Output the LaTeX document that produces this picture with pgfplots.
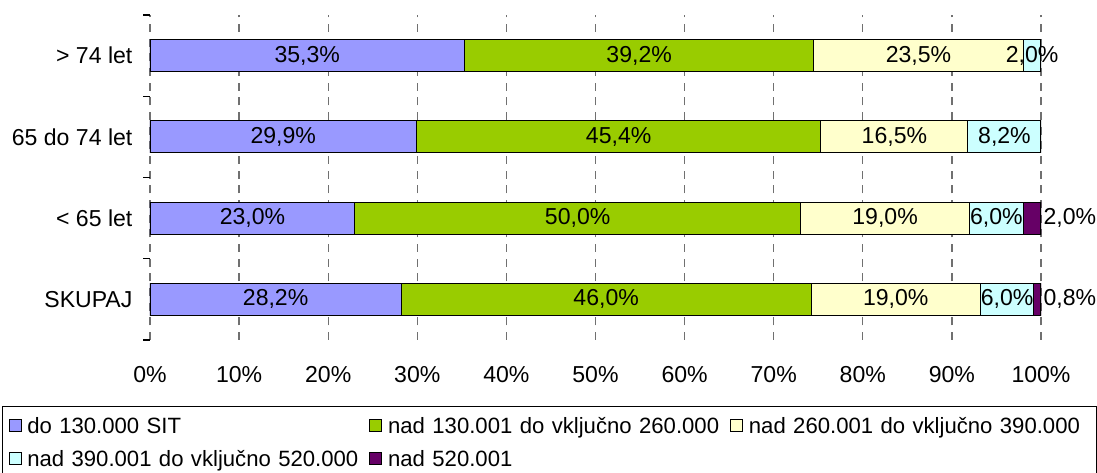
\documentclass[border=0pt]{standalone}
\usepackage{fontspec}
\setmainfont{Liberation Sans}
\usepackage{pgfplots}
\pgfplotsset{compat=1.18}
\definecolor{c1}{HTML}{9999FF}
\definecolor{c2}{HTML}{99CC00}
\definecolor{c3}{HTML}{FFFFCC}
\definecolor{c4}{HTML}{CCFFFF}
\definecolor{c5}{HTML}{660066}
\definecolor{gridgray}{HTML}{707070}
\pgfplotsset{
  myleg/.style={legend image code/.code={\draw[##1,line width=0.6pt] (0pt,-4.5pt) rectangle (9pt,4.5pt);}},
  centerlabel/.style={nodes near coords={\pgfmathprintnumber{\pgfplotspointmeta}\%},
    point meta=explicit,
    every node near coord/.append style={anchor=center, text=black, inner sep=0pt}},
  barst/.style={draw=black, line width=0.8pt, myleg},
}
\begin{document}
\fontsize{17.3}{20.8}\selectfont
\begin{tikzpicture}[font=\fontsize{17.3}{20.8}\selectfont]
\begin{axis}[
  at={(112.5pt,-255pt)}, anchor=south west,
  scale only axis, width=668.25pt, height=243.75pt,
  xbar stacked, bar width=24pt,
  xmin=0, xmax=100, ymin=-0.5, ymax=3.5,
  axis line style={draw=none},
  xtick={0,10,...,100},
  xticklabels={0\%,10\%,20\%,30\%,40\%,50\%,60\%,70\%,80\%,90\%,100\%},
  xtick pos=bottom,
  xticklabel style={anchor=center, yshift=-26.25pt},
  ytick={0,1,2,3},
  yticklabels={SKUPAJ,{< 65 let},{65 do 74 let},{> 74 let}},
  yticklabel style={anchor=east, inner xsep=0pt, xshift=-13pt},
  minor ytick={-0.5,0.5,1.5,2.5,3.5},
  ytick pos=left, tick align=outside,
  major tick length=0pt, minor tick length=5pt,
  every minor tick/.append style={black, line width=0.8pt},
  xmajorgrids,
  major grid style={dash pattern=on 6pt off 5pt, line width=0.9pt, color=gridgray},
  /pgf/number format/fixed, /pgf/number format/fixed zerofill,
  /pgf/number format/precision=1, /pgf/number format/use comma,
  /pgf/number format/assume math mode=true,
  legend cell align=left,
  legend columns=3,
  legend style={at={(axis description cs:-0.1661,-0.2031)}, anchor=north west,
    font=\fontsize{16.6}{20}\selectfont,
    draw=black, line width=0.8pt, inner xsep=4.5pt, inner ysep=8pt,
    column sep=0pt, row sep=12.55pt,
    nodes={text width=252pt, inner xsep=4.5pt, inner ysep=0pt, text height=12pt, text depth=0.2pt, align=left}},
]
\addplot[barst, fill=c1, centerlabel] coordinates {(28.2,0) [28.2] (23.0,1) [23.0] (29.9,2) [29.9] (35.3,3) [35.3]};
\addplot[barst, fill=c2, centerlabel] coordinates {(46.0,0) [46.0] (50.0,1) [50.0] (45.4,2) [45.4] (39.2,3) [39.2]};
\addplot[barst, fill=c3, centerlabel] coordinates {(19.0,0) [19.0] (19.0,1) [19.0] (16.5,2) [16.5] (23.5,3) [23.5]};
\addplot[barst, fill=c4, centerlabel] coordinates {(6.0,0) [6.0] (6.0,1) [6.0] (8.2,2) [8.2] (2.0,3) [2.0]};
\addplot[barst, fill=c5, nodes near coords={\pgfmathprintnumber{\pgfplotspointmeta}\%}, point meta=explicit,
  visualization depends on=rawx \as \rawx,
  every node near coord/.append style={anchor=west, text=black, inner xsep=1.5pt, inner ysep=0pt,
    shift={(axis direction cs:\rawx/2,0)}}] coordinates {(0.8,0) [0.8] (2.0,1) [2.0]};
\legend{do 130.000 SIT, nad 130.001 do vključno 260.000, nad 260.001 do vključno 390.000, nad 390.001 do vključno 520.000, nad 520.001}
\end{axis}
\pgfresetboundingbox
\path (0pt,-354.75pt) rectangle (822.75pt,0pt);
\end{tikzpicture}
\end{document}
